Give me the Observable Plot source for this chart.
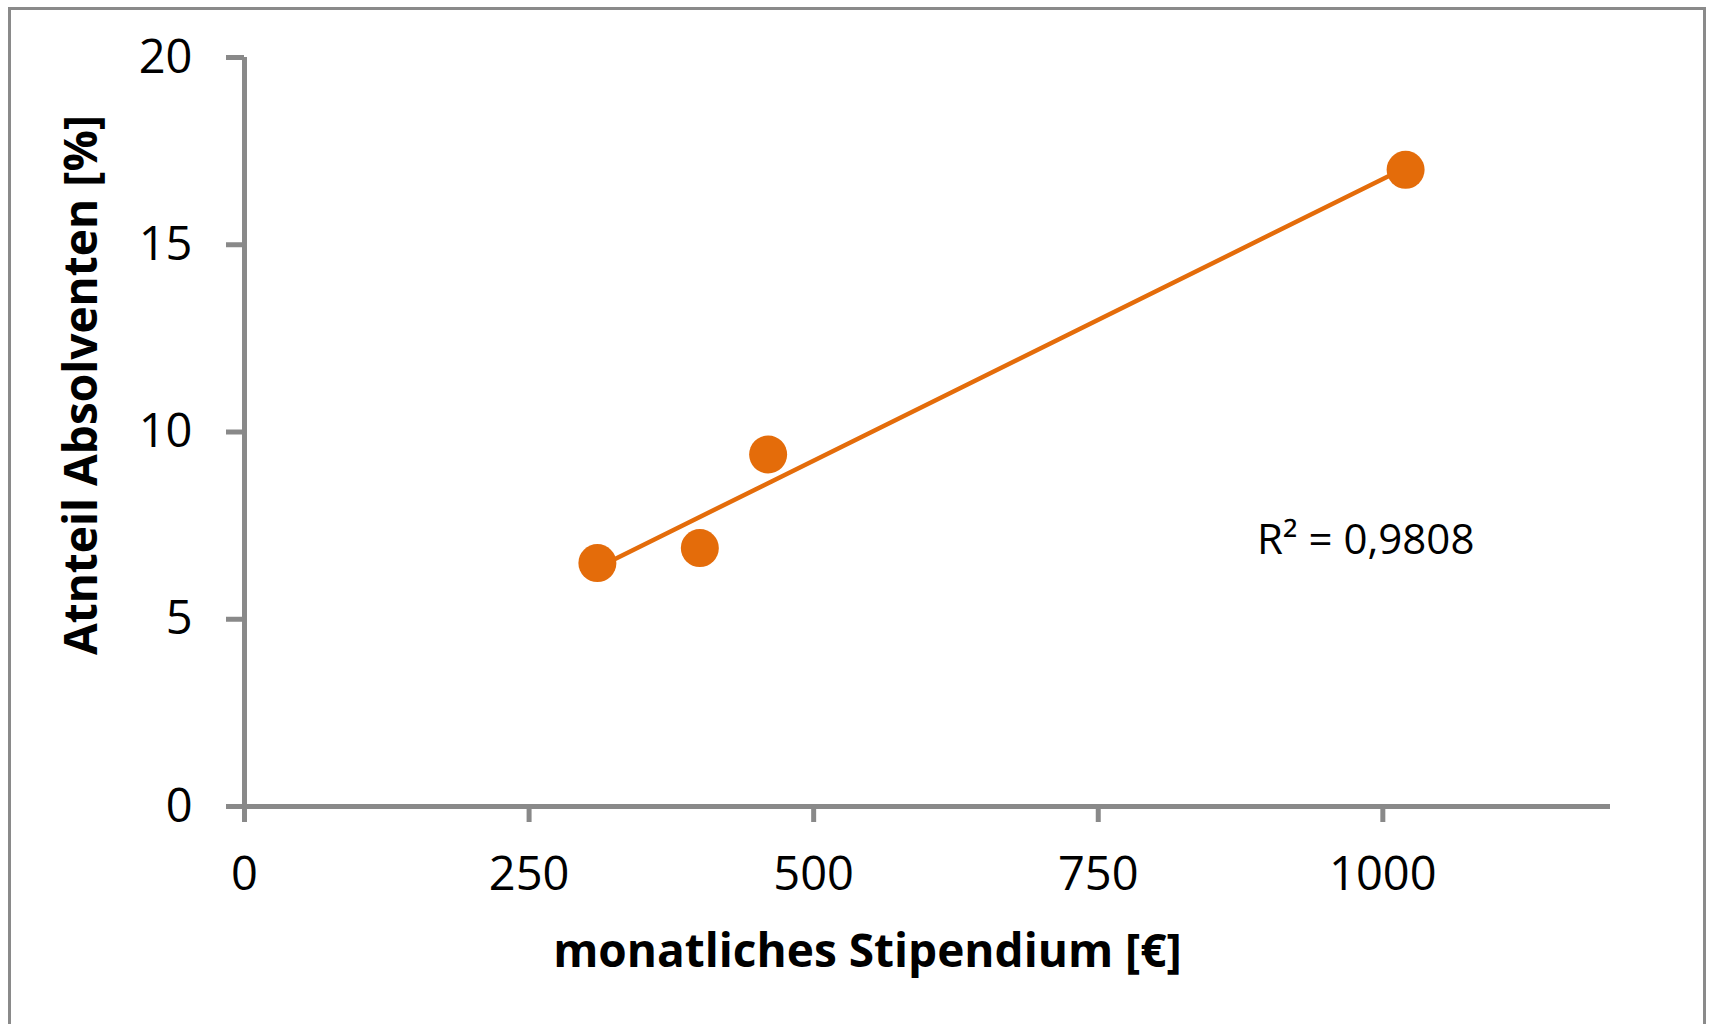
<!DOCTYPE html>
<html>
<head>
<meta charset="utf-8">
<script src="https://cdn.jsdelivr.net/npm/d3@7"></script>
<script src="https://cdn.jsdelivr.net/npm/@observablehq/plot@0.6"></script>
<style>
  html, body { margin: 0; padding: 0; background: #fff; overflow: hidden; }
  #wrap { position: relative; width: 1709px; height: 1024px; }
  #frame { position: absolute; left: 8px; top: 7px; width: 1698px; height: 1100px; border: 3px solid #8a8a8a; box-sizing: border-box; pointer-events: none; }
</style>
</head>
<body>
<div id="wrap"><div id="frame"></div><div id="chart"></div></div>
<script>
// Data
const stipendium = [310, 400, 460, 1020];          // monatliches Stipendium [€]
const anteil = [6.5, 6.9, 9.4, 17.0];               // Anteil Absolventen [%]
const xTicks = [0, 250, 500, 750, 1000];
const yTicks = [0, 5, 10, 15, 20];
const xDomain = [0, 1200];
const yDomain = [0, 20];
const r2Label = [{x: 985, y: 7.1, text: "R² = 0,9808"}];
const xTitle = "monatliches Stipendium [€]";
const yTitle = "Atnteil Absolventen [%]";

const points = stipendium.map((s, i) => ({x: s, y: anteil[i]}));
const orange = "#E46C0A";
const axisGray = "#898989";
const font = "'Open Sans', 'DejaVu Sans', sans-serif";

const plot = Plot.plot({
  width: 1709,
  height: 1024,
  marginLeft: 244,
  marginRight: 99,
  marginTop: 57,
  marginBottom: 218,
  style: {fontFamily: font, fontSize: "46px", color: "#000", background: "transparent"},
  x: {domain: xDomain, ticks: xTicks, label: null},
  y: {domain: yDomain, ticks: yTicks, label: null},
  marks: [
    Plot.axisX({ticks: xTicks, tickSize: 16, tickPadding: 34, stroke: axisGray, strokeWidth: 5, fontSize: 47, fill: "#000", tickFormat: d => String(d)}),
    Plot.axisY({ticks: yTicks, tickSize: 18, tickPadding: 34, stroke: axisGray, strokeWidth: 5, fontSize: 47, fill: "#000", tickFormat: d => String(d)}),
    Plot.ruleY([0], {stroke: axisGray, strokeWidth: 5}),
    Plot.ruleX([0], {stroke: axisGray, strokeWidth: 5}),
    Plot.linearRegressionY(points, {x: "x", y: "y", stroke: orange, strokeWidth: 4.5, ci: 0}),
    Plot.dot(points, {x: "x", y: "y", r: 19, fill: orange, stroke: "none"}),
    Plot.text(r2Label, {x: "x", y: "y", text: "text", fontSize: 42, fill: "#000", textAnchor: "middle"}),
    Plot.text([xTitle], {frameAnchor: "bottom", text: d => d, dy: 160, dx: -60, fontSize: 46, fontWeight: "bold", fill: "#000", textAnchor: "middle"}),
    Plot.text([yTitle], {frameAnchor: "left", text: d => d, rotate: -90, dx: -162, dy: -47, fontSize: 46, fontWeight: "bold", fill: "#000", textAnchor: "middle"})
  ]
});
document.getElementById("chart").appendChild(plot);
</script>
</body>
</html>
